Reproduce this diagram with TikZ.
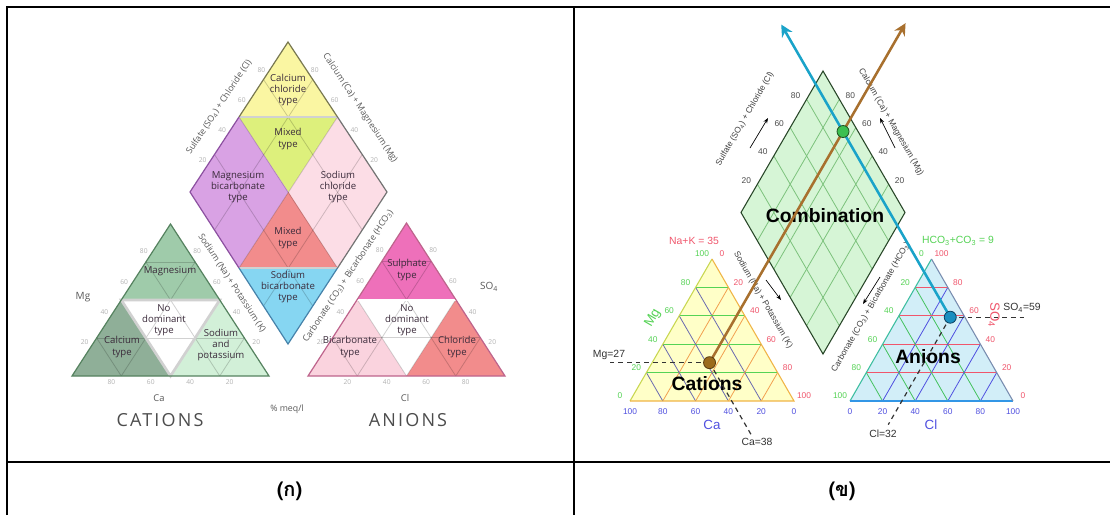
\documentclass[tikz,border=0pt]{standalone}
\usepackage{fontspec}
\setmainfont{Liberation Sans}
\newfontfamily\hand{Open Sans}
\newfontfamily\handwide[LetterSpace=12]{Open Sans}
\newfontfamily\thaifont[Script=Thai]{Loma}
\usetikzlibrary{calc,arrows.meta}
% left panel colours
\definecolor{cCalCl}{HTML}{FAF6A2}
\definecolor{cMixTop}{HTML}{DDF07C}
\definecolor{cMgBic}{HTML}{D9A2E4}
\definecolor{cNaCl}{HTML}{FCDDE6}
\definecolor{cMixBot}{HTML}{F28C8C}
\definecolor{cNaBic}{HTML}{86D6F2}
\definecolor{cMgT}{HTML}{9FCBAA}
\definecolor{cCaT}{HTML}{8FAF98}
\definecolor{cNaK}{HTML}{D2F0D8}
\definecolor{cSO4T}{HTML}{EE70BA}
\definecolor{cBicT}{HTML}{FAD3DE}
\definecolor{cClT}{HTML}{F28C8C}
\definecolor{lText}{HTML}{3A2A3A}
% right panel colours
\definecolor{rCatFill}{HTML}{FFFFC8}
\definecolor{rAnFill}{HTML}{D2EEF8}
\definecolor{rDiaFill}{HTML}{D6F5D6}
\definecolor{rGreen}{HTML}{55D355}
\definecolor{rRed}{HTML}{F0566C}
\definecolor{rBlue}{HTML}{5050E0}
\definecolor{rOrange}{HTML}{F2A050}
\definecolor{rSlate}{HTML}{6A6AB0}
\definecolor{rGridG}{HTML}{7CC27C}
\definecolor{rBrown}{HTML}{A8702E}
\definecolor{rTeal}{HTML}{1AA3C9}
\newcommand{\mytgrid}[7]{%
  \foreach \f in {#4} {%
    \draw[#5] ($(#1)!\f!(#3)$) -- ($(#2)!\f!(#3)$);
    \draw[#6] ($(#1)!\f!(#2)$) -- ($(#3)!\f!(#2)$);
    \draw[#7] ($(#2)!\f!(#1)$) -- ($(#3)!\f!(#1)$);
  }}
\tikzset{
  tableline/.style={line width=1.5pt,black},
  lgrid/.style={black,opacity=0.18,line width=0.6pt},
  lsep/.style={line width=2pt,color=black!18},
  ltype/.style={font=\hand\fontsize{7.2}{8.4}\selectfont,text=lText,align=center,inner sep=0pt},
  laxis/.style={font=\hand\fontsize{6.6}{7.5}\selectfont,text=black!65,inner sep=0pt},
  ltick/.style={font=\hand\fontsize{5}{6}\selectfont,text=black!30,inner sep=0pt},
  lname/.style={font=\handwide\fontsize{13.5}{15}\selectfont,text=black!70,inner sep=0pt},
  rnum/.style={font=\fontsize{6.3}{7}\selectfont,inner sep=0pt},
  raxis/.style={font=\fontsize{6.3}{7}\selectfont,text=black!75,inner sep=0pt},
  rlab/.style={font=\fontsize{7.8}{9}\selectfont,inner sep=0pt},
  rbig/.style={font=\fontsize{10}{12}\selectfont,inner sep=0pt},
  rtitle/.style={font=\bfseries\fontsize{14.5}{16}\selectfont,inner sep=0pt},
  bigarrow/.style={line width=1.9pt,-{Stealth[length=9pt,width=9pt,inset=3pt]}},
  smallarrow/.style={line width=0.5pt,-{Stealth[length=4pt,width=3pt]}},
  dashline/.style={line width=0.9pt,black!80,dash pattern=on 3.5pt off 3pt},
  dot/.style={circle,draw,line width=0.6pt,minimum size=9pt,inner sep=0pt},
  thai/.style={font=\thaifont\bfseries\fontsize{15}{18}\selectfont,inner sep=0pt}
}
\begin{document}
\begin{tikzpicture}[x=0.75pt,y=-0.75pt]
\fill[white] (0,0) rectangle (1110,515);
\useasboundingbox (0,0) rectangle (1110,515);
% ---------------- table ----------------
\draw[tableline] (7,515) -- (7,7) -- (1110,7);
\draw[tableline] (574,7) -- (574,515);
\draw[tableline] (7,462) -- (1110,462);
\node[thai] (capA) at (289.5,491) {(ก)};
\node[thai] (capB) at (842,491) {(ข)};
% ================= LEFT PANEL =================
\coordinate (LT) at (288,42);
\coordinate (LL) at (190,192);
\coordinate (LR) at (387,192);
\coordinate (LB) at (288,344);
\coordinate (LuL) at ($(LL)!0.5!(LT)$);
\coordinate (LuR) at ($(LR)!0.5!(LT)$);
\coordinate (LlL) at ($(LL)!0.5!(LB)$);
\coordinate (LlR) at ($(LR)!0.5!(LB)$);
\coordinate (LC) at ($(LL)!0.5!(LR)$);
\fill[cCalCl] (LT) -- (LuL) -- (LuR) -- cycle;
\fill[cMixTop] (LuL) -- (LuR) -- (LC) -- cycle;
\fill[cMgBic] (LuL) -- (LL) -- (LlL) -- (LC) -- cycle;
\fill[cNaCl] (LuR) -- (LR) -- (LlR) -- (LC) -- cycle;
\fill[cMixBot] (LC) -- (LlL) -- (LlR) -- cycle;
\fill[cNaBic] (LlL) -- (LlR) -- (LB) -- cycle;
\foreach \f in {0.25,0.5,0.75} {
  \draw[lgrid] ($(LL)!\f!(LB)$) -- ($(LT)!\f!(LR)$);
  \draw[lgrid] ($(LL)!\f!(LT)$) -- ($(LB)!\f!(LR)$);
}
\draw[lsep] (LuL) -- (LuR);
\draw[lsep] (LlL) -- (LlR);
\draw[line width=0.9pt,color={rgb,255:red,120;green,120;blue,80}] (LuL) -- (LT) -- (LuR);
\draw[line width=0.9pt,color={rgb,255:red,140;green,80;blue,160}] (LuL) -- (LL) -- (LlL);
\draw[line width=0.9pt,color={rgb,255:red,70;green,130;blue,170}] (LlL) -- (LB) -- (LlR);
\draw[line width=0.9pt,color=black!55] (LlR) -- (LR) -- (LuR);
% cation triangle (left)
\coordinate (CA) at (72,376);
\coordinate (CB) at (269,376);
\coordinate (CT) at (170.5,224);
\coordinate (CmL) at ($(CA)!0.5!(CT)$);
\coordinate (CmR) at ($(CB)!0.5!(CT)$);
\coordinate (CmB) at ($(CA)!0.5!(CB)$);
\fill[cMgT] (CT) -- (CmL) -- (CmR) -- cycle;
\fill[cCaT] (CA) -- (CmL) -- (CmB) -- cycle;
\fill[cNaK] (CmB) -- (CmR) -- (CB) -- cycle;
\fill[white] (CmL) -- (CmR) -- (CmB) -- cycle;
\mytgrid{CA}{CB}{CT}{0.25,0.5,0.75}{lgrid}{lgrid}{lgrid}
\draw[lsep] (CmL) -- (CmR) -- (CmB) -- cycle;
\draw[line width=0.9pt,color={rgb,255:red,85;green,130;blue,95}] (CA) -- (CB) -- (CT) -- cycle;
% anion triangle (left)
\coordinate (AA) at (308,376);
\coordinate (AB) at (505,376);
\coordinate (AT) at (406.5,223);
\coordinate (AmL) at ($(AA)!0.5!(AT)$);
\coordinate (AmR) at ($(AB)!0.5!(AT)$);
\coordinate (AmB) at ($(AA)!0.5!(AB)$);
\fill[cSO4T] (AT) -- (AmL) -- (AmR) -- cycle;
\fill[cBicT] (AA) -- (AmL) -- (AmB) -- cycle;
\fill[cClT] (AmB) -- (AmR) -- (AB) -- cycle;
\fill[white] (AmL) -- (AmR) -- (AmB) -- cycle;
\mytgrid{AA}{AB}{AT}{0.25,0.5,0.75}{lgrid}{lgrid}{lgrid}
\draw[line width=1.5pt,color=white] (AmL) -- (AmR);
\draw[line width=0.9pt,color={rgb,255:red,190;green,100;blue,140}] (AA) -- (AB) -- (AT) -- cycle;
% left panel texts
\node[ltype] (tCalCl) at (288,90) {Calcium\\chloride\\type};
\node[ltype] (tMixT) at (288,139) {Mixed\\type};
\node[ltype] (tMgBic) at (238,187) {Magnesium\\bicarbonate\\type};
\node[ltype] (tNaCl) at (338,187) {Sodium\\chloride\\type};
\node[ltype] (tMixB) at (288,238) {Mixed\\type};
\node[ltype] (tNaBic) at (288,287) {Sodium\\bicarbonate\\type};
\node[ltype] (tMg) at (170,271) {Magnesium};
\node[ltype] (tNoC) at (164,320) {No\\dominant\\type};
\node[ltype] (tCa) at (122,347) {Calcium\\type};
\node[ltype] (tNaK) at (221,345) {Sodium\\and\\potassium};
\node[ltype] (tSO4) at (407,270) {Sulphate\\type};
\node[ltype] (tNoA) at (407,320) {No\\dominant\\type};
\node[ltype] (tBic) at (350,347) {Bicarbonate\\type};
\node[ltype] (tCl) at (457,347) {Chloride\\type};
\node[laxis,rotate=56.7] (lSC) at (219,107) {Sulfate (SO\textsubscript{4}) + Chloride (Cl)};
\node[laxis,rotate=-56.7] (lCM) at (360,108) {Calcium (Ca) + Magnesium (Mg)};
\node[laxis,rotate=-56.7] (lNK) at (232,283) {Sodium (Na) + Potassium (K)};
\node[laxis,rotate=56.7] (lCB) at (348,276) {Carbonate (CO\textsubscript{3}) + Bicarbonate (HCO\textsubscript{3})};
\node[laxis,font=\hand\fontsize{7.5}{9}\selectfont] (lMg) at (83,297) {Mg};
\node[laxis,font=\hand\fontsize{7.5}{9}\selectfont] (lSO) at (489,287) {SO\textsubscript{4}};
\node[laxis,font=\hand\fontsize{7}{9}\selectfont] (lCa) at (159,398) {Ca};
\node[laxis,font=\hand\fontsize{7}{9}\selectfont] (lCl) at (405,398) {Cl};
\node[laxis,font=\hand\fontsize{6.6}{8}\selectfont] (lmeq) at (287,409) {\% meq/l};
\node[lname] (lCAT) at (160,420) {CATIONS};
\node[lname] (lAN) at (408,420) {ANIONS};
% faint tick numbers
\foreach \f/\v [count=\i] in {0.2/80,0.4/60,0.6/40,0.8/20} {
  \node[ltick] (lcb\i) at ($(CA)!\f!(CB)+(0,6)$) {\v};
  \node[ltick] (lab\i) at ($(AB)!\f!(AA)+(0,6)$) {\v};
}
\foreach \f/\v [count=\i] in {0.8/80,0.6/60,0.4/40,0.2/20} {
  \node[ltick] (lcl\i) at ($(CA)!\f!(CT)+(-7,-3)$) {\v};
  \node[ltick] (lcr\i) at ($(CB)!\f!(CT)+(7,-3)$) {\v};
  \node[ltick] (lal\i) at ($(AA)!\f!(AT)+(-7,-3)$) {\v};
  \node[ltick] (lar\i) at ($(AB)!\f!(AT)+(7,-3)$) {\v};
  \node[ltick] (ldl\i) at ($(LL)!\f!(LT)+(-7,-2)$) {\v};
  \node[ltick] (ldr\i) at ($(LR)!\f!(LT)+(7,-2)$) {\v};
}
% ================= RIGHT PANEL =================
\coordinate (Ac) at (630,401);
\coordinate (Bc) at (794,401);
\coordinate (Tc) at (712,259);
\coordinate (Aa) at (850,401);
\coordinate (Ba) at (1013,401);
\coordinate (Ta) at (931.5,259);
\coordinate (DT) at (823,71);
\coordinate (DL) at (741,212.5);
\coordinate (DR) at (905,212.5);
\coordinate (DB) at (823,354);
% diamond
\fill[rDiaFill] (DT) -- (DR) -- (DB) -- (DL) -- cycle;
\foreach \f in {0.2,0.4,0.6,0.8} {
  \draw[rGridG,line width=0.6pt] ($(DL)!\f!(DB)$) -- ($(DT)!\f!(DR)$);
  \draw[rGridG,line width=0.6pt] ($(DL)!\f!(DT)$) -- ($(DB)!\f!(DR)$);
}
\draw[line width=0.8pt,color={rgb,255:red,40;green,70;blue,40}] (DT) -- (DR) -- (DB) -- (DL) -- cycle;
% cation triangle
\fill[rCatFill] (Ac) -- (Bc) -- (Tc) -- cycle;
\mytgrid{Ac}{Bc}{Tc}{0.2,0.4,0.6,0.8}{rGreen,line width=0.7pt}{rOrange,line width=0.6pt}{rSlate,line width=0.6pt}
\draw[line width=0.8pt,color={rgb,255:red,200;green,215;blue,80}] (Ac) -- (Tc);
\draw[line width=0.8pt,color={rgb,255:red,240;green,180;blue,70}] (Ac) -- (Bc) -- (Tc);
% anion triangle
\fill[rAnFill] (Aa) -- (Ba) -- (Ta) -- cycle;
\mytgrid{Aa}{Ba}{Ta}{0.2,0.4,0.6,0.8}{rRed,line width=0.7pt}{rBlue,line width=0.6pt}{rGreen!80!teal,line width=0.6pt}
\draw[line width=0.8pt,color={rgb,255:red,60;green,190;blue,160}] (Aa) -- (Ta);
\draw[line width=0.9pt,color={rgb,255:red,50;green,150;blue,230}] (Aa) -- (Ba);
\draw[line width=0.8pt,color={rgb,255:red,120;green,140;blue,175}] (Ba) -- (Ta);
% numbers
\foreach \k [evaluate=\k as \fr using \k/5, evaluate=\k as \va using int(20*\k), evaluate=\k as \vb using int(100-20*\k)] in {0,...,5} {
  \node[rnum,text=rGreen] (cl\k) at ($(Tc)!\fr!(Ac)+(-10,-5)$) {\vb};
  \node[rnum,text=rRed] (cr\k) at ($(Tc)!\fr!(Bc)+(10,-5)$) {\va};
  \node[rnum,text=rBlue] (cb\k) at ($(Ac)!\fr!(Bc)+(0,11)$) {\vb};
  \node[rnum,text=rGreen] (al\k) at ($(Ta)!\fr!(Aa)+(-10,-5)$) {\va};
  \node[rnum,text=rRed] (ar\k) at ($(Ta)!\fr!(Ba)+(10,-5)$) {\vb};
  \node[rnum,text=rBlue] (ab\k) at ($(Aa)!\fr!(Ba)+(0,11)$) {\va};
}
\foreach \f/\v [count=\i] in {0.2/20,0.4/40,0.6/60,0.8/80} {
  \node[rnum,text=black!70] (dl\i) at ($(DL)!\f!(DT)+(-11,-4)$) {\v};
  \node[rnum,text=black!70] (dr\i) at ($(DR)!\f!(DT)+(11,-4)$) {\v};
}
% axis texts around diamond
\node[raxis,rotate=60] (rSC) at (745,119) {Sulfate (SO\textsubscript{4}) + Chloride (Cl)};
\node[raxis,rotate=-60] (rCM) at (891,122) {Calcium (Ca) + Magnesium (Mg)};
\node[raxis,rotate=-60] (rNK) at (763,300) {Sodium (Na) + Potassium (K)};
\node[raxis,rotate=60] (rCB) at (871,307) {Carbonate (CO\textsubscript{3}) + Bicarbonate (HCO\textsubscript{3})};
\coordinate (a1s) at (750,148); \coordinate (a1e) at (768,118);
\coordinate (a2s) at (895,148); \coordinate (a2e) at (880,118);
\coordinate (a3s) at (766,280); \coordinate (a3e) at (781,300);
\coordinate (a4s) at (880,277); \coordinate (a4e) at (863,304);
\draw[smallarrow] (a1s) -- (a1e);
\draw[smallarrow] (a2s) -- (a2e);
\draw[smallarrow] (a3s) -- (a3e);
\draw[smallarrow] (a4s) -- (a4e);
% labels
\node[rtitle] (tComb) at (825,216) {Combination};
\node[rtitle] (tCat) at (707,384) {Cations};
\node[rtitle] (tAn) at (928,357) {Anions};
\node[rlab,text=rRed] (tNaK) at (694,241) {Na+K = 35};
\node[rlab,text=rGreen] (tHCO) at (958,241) {HCO\textsubscript{3}+CO\textsubscript{3} = 9};
\node[rbig,text=rBlue] (tCaAx) at (712,425) {Ca};
\node[rbig,text=rBlue] (tClAx) at (931,425) {Cl};
\node[rbig,text=rGreen,rotate=60] (tMgAx) at (653,318) {Mg};
\node[rbig,text=rRed,rotate=-90] (tSOAx) at (994,315) {SO\textsubscript{4}};
% points and projections
\coordinate (P1) at (barycentric cs:Ac=0.38,Bc=0.35,Tc=0.27);
\coordinate (P2) at (barycentric cs:Aa=0.09,Ba=0.32,Ta=0.59);
\coordinate (P1u) at ($(P1)+(100,-173.2)$);
\coordinate (P2u) at ($(P2)+(-100,-173.2)$);
\coordinate (P3) at (intersection of P1--P1u and P2--P2u);
\coordinate (E1) at ($(P1)+(196,-339.5)$);
\coordinate (E2) at ($(P2)+(-169,-292.7)$);
\coordinate (M1) at ($(P1)+(-102,0)$);
\coordinate (C1) at ($(P1)+(42,72.7)$);
\coordinate (C2) at ($(P2)+(-62,107.4)$);
\coordinate (S2) at ($(P2)+(78,0)$);
\draw[dashline] (P1) -- (M1);
\draw[dashline] (P1) -- (C1);
\draw[dashline] (P2) -- (C2);
\draw[dashline] (P2) -- (S2);
\node[rlab,text=black!80] (tMg27) at (609,355) {Mg=27};
\node[rlab,text=black!80] (tCa38) at (757,442) {Ca=38};
\node[rlab,text=black!80] (tCl32) at (883,434) {Cl=32};
\node[rlab,text=black!80] (tSO59) at (1022,308) {SO\textsubscript{4}=59};
\draw[bigarrow,rBrown] (P1) -- (E1);
\draw[bigarrow,rTeal] (P2) -- (E2);
\node[dot,fill={rgb,255:red,156;green,107;blue,28},draw={rgb,255:red,90;green,60;blue,16}] (d1) at (P1) {};
\node[dot,fill={rgb,255:red,26;green,143;blue,192},draw={rgb,255:red,10;green,64;blue,96}] (d2) at (P2) {};
\node[dot,fill={rgb,255:red,60;green,192;blue,80},draw={rgb,255:red,32;green,80;blue,32}] (d3) at (P3) {};
\end{tikzpicture}
\end{document}
